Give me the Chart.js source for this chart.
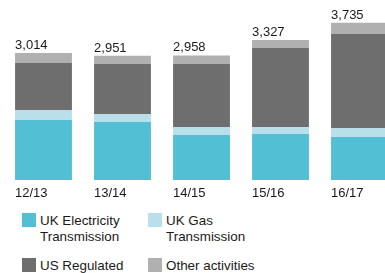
<!DOCTYPE html>
<html>
<head>
<meta charset="utf-8">
<script src="https://cdn.jsdelivr.net/npm/chart.js@4/dist/chart.umd.min.js"></script>
<style>
  html, body { margin: 0; padding: 0; background: #fff; overflow: hidden; }
  body { width: 385px; height: 273px; position: relative; font-family: "Liberation Sans", Arial, Helvetica, sans-serif; color: #1a1a1a; }
  #wrap { position: absolute; left: 0; top: 0; width: 400px; height: 211px; }
  .lg { position: absolute; font-size: 13.4px; line-height: 16px; }
  .lg i { position: absolute; left: 0; top: 0; width: 14px; height: 14px; }
  .lg span { position: absolute; left: 18px; top: 0; white-space: nowrap; }
</style>
</head>
<body>
<div id="wrap"><canvas id="capexChart"></canvas></div>
<div id="legend"></div>
<script>
// ==========================
// DATA
// ==========================
const years = ["12/13", "13/14", "14/15", "15/16", "16/17"];
const ukElectricity = [1425, 1378, 1069, 1093, 1021];
const ukGas = [238, 190, 190, 166, 214];
const usRegulated = [1116, 1188, 1496, 1878, 2233];
const otherActivities = [235, 195, 203, 190, 267];
const totals = [3014, 2951, 2958, 3327, 3735];

const seriesNames = [["UK Electricity", "Transmission"], ["UK Gas", "Transmission"], ["US Regulated"], ["Other activities"]];
const seriesColors = ["#52bfd4", "#b9e0ea", "#6e6e6e", "#b0b0b0"];

// ==========================
// TOTAL LABELS ON TOP OF BARS
// ==========================
const totalLabels = {
  id: "totalLabels",
  afterDatasetsDraw(chart) {
    const ctx = chart.ctx;
    const meta = chart.getDatasetMeta(chart.data.datasets.length - 1);
    ctx.save();
    ctx.font = "13px 'Liberation Sans', Arial, Helvetica, sans-serif";
    ctx.fillStyle = "#1a1a1a";
    ctx.textAlign = "left";
    ctx.textBaseline = "alphabetic";
    meta.data.forEach((bar, i) => {
      const left = bar.x - bar.width / 2;
      ctx.fillText(totals[i].toLocaleString("en-GB"), left, bar.y - 4);
    });
    ctx.restore();
  }
};

// ==========================
// CHART
// ==========================
const data = [ukElectricity, ukGas, usRegulated, otherActivities];

new Chart(document.getElementById("capexChart"), {
  type: "bar",
  data: {
    labels: years,
    datasets: data.map((d, i) => ({
      label: seriesNames[i].join(" "),
      data: d,
      backgroundColor: seriesColors[i],
      borderWidth: 0,
      barPercentage: 0.72,
      categoryPercentage: 1
    }))
  },
  options: {
    responsive: true,
    maintainAspectRatio: false,
    animation: false,
    layout: { padding: { top: 11.6, left: 4, right: 1, bottom: 3.4 } },
    plugins: {
      legend: { display: false },
      tooltip: { enabled: false }
    },
    scales: {
      x: {
        stacked: true,
        grid: { display: false, drawTicks: false },
        border: { display: false },
        ticks: {
          align: "start",
          labelOffset: -28.5,
          padding: 6,
          color: "#1a1a1a",
          font: { family: "'Liberation Sans', Arial, Helvetica, sans-serif", size: 13 }
        }
      },
      y: {
        stacked: true,
        display: false,
        min: 0,
        max: 4000
      }
    }
  },
  plugins: [totalLabels]
});

// ==========================
// LEGEND
// ==========================
const legendPos = [[22, 213], [148, 213], [22, 258], [148, 258]];
const legend = document.getElementById("legend");
seriesNames.forEach((name, i) => {
  const item = document.createElement("div");
  item.className = "lg";
  item.style.left = legendPos[i][0] + "px";
  item.style.top = legendPos[i][1] + "px";
  const box = document.createElement("i");
  box.style.background = seriesColors[i];
  const txt = document.createElement("span");
  txt.innerHTML = name.join("<br>");
  item.appendChild(box);
  item.appendChild(txt);
  legend.appendChild(item);
});
</script>
</body>
</html>
